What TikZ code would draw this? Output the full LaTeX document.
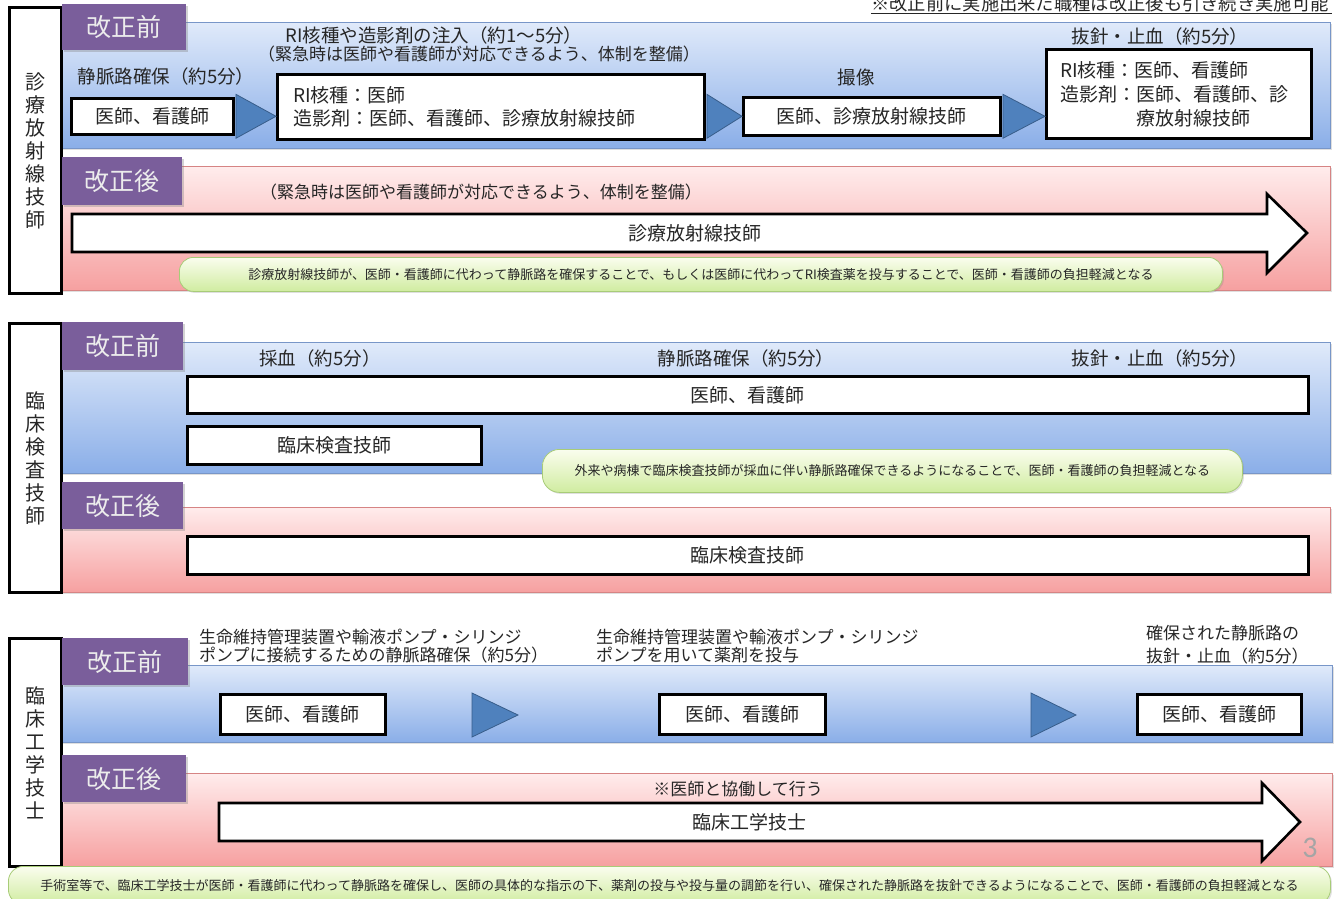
\documentclass[tikz,border=0pt]{standalone}
\usepackage{fontspec}
\setmainfont{Noto Sans CJK JP}
\newfontfamily\pagefont{Carlito}
\usetikzlibrary{calc,shadows}
\definecolor{txt}{RGB}{38,38,38}
\definecolor{bluetop}{RGB}{224,234,250}
\definecolor{bluebot}{RGB}{138,174,232}
\definecolor{bluebd}{RGB}{120,150,200}
\definecolor{pinktop}{RGB}{255,236,236}
\definecolor{pinkbot}{RGB}{246,160,160}
\definecolor{pinkbd}{RGB}{214,132,132}
\definecolor{purp}{RGB}{122,94,155}
\definecolor{lbltxt}{RGB}{236,236,236}
\definecolor{trifill}{RGB}{79,129,189}
\definecolor{tribd}{RGB}{56,93,138}
\definecolor{greentop}{RGB}{250,253,238}
\definecolor{greenbot}{RGB}{208,236,160}
\definecolor{greenbd}{RGB}{168,204,120}
\definecolor{pagegray}{RGB}{165,165,165}
\newcommand\fz[2]{\fontsize{#1}{#2}\selectfont}
\begin{document}
\begin{tikzpicture}[x=1pt,y=-1pt,
  band/.style={draw, line width=0.8pt, inner sep=0, anchor=north west,
    drop shadow={shadow xshift=1.5pt,shadow yshift=-1.5pt,opacity=0.25}},
  blueband/.style={band, draw=bluebd, top color=bluetop, bottom color=bluebot},
  pinkband/.style={band, draw=pinkbd, top color=pinktop, bottom color=pinkbot},
  tag/.style={fill=purp, text=lbltxt, font=\fz{25}{30}, inner sep=0, anchor=north west,
    drop shadow={shadow xshift=1.5pt,shadow yshift=-1.5pt,opacity=0.35}},
  side/.style={draw=black, line width=3pt, fill=white, inner sep=0, anchor=north west,
    align=center, text=txt, font=\fz{20}{23}},
  wbox/.style={draw=black, line width=2.6pt, fill=white, inner sep=0, anchor=north west,
    text=txt, font=\fz{19}{23}},
  lab/.style={text=txt, inner sep=0, font=\fz{18.5}{22}},
  small/.style={text=txt, inner sep=0, font=\fz{17}{19}},
  tri/.style={fill=trifill, draw=tribd, line width=0.8pt},
  bigarrow/.style={draw=black, line width=2.6pt, fill=white, line join=miter},
  note/.style={rounded corners=14pt, draw=greenbd, line width=0.8pt, top color=greentop,
    bottom color=greenbot, inner sep=0, anchor=north west, text=txt, font=\fz{13}{15},
    drop shadow={shadow xshift=1.5pt,shadow yshift=-1.5pt,opacity=0.25}}
]
\useasboundingbox (0,0) rectangle (1336,899);

% top note
\node[text=txt, inner sep=0, anchor=base west, font=\fz{18.3}{22}] (topnote) at (871,10.5) {※改正前に実施出来た職種は改正後も引き続き実施可能};
\draw[txt, line width=1pt] (topnote.west |- 0,14) -- (1332,14);

% ===== Section 1 =====
\node[blueband, minimum width=1270, minimum height=126] (blue1) at (60,22) {};
\node[pinkband, minimum width=1270, minimum height=124] (pink1) at (60,166) {};
\node[side, minimum width=52, minimum height=286] (side1) at (8,6) {診\\療\\放\\射\\線\\技\\師};
\node[tag, minimum width=124, minimum height=46] (tag1a) at (62,4) {改正前};
\node[tag, minimum width=120, minimum height=48] (tag1b) at (62,157) {改正後};

\node[lab] (t11) at (434,35) {RI核種や造影剤の注入（約1～5分）};
\node[small] (t12) at (479,54) {（緊急時は医師や看護師が対応できるよう、体制を整備）};
\node[lab] (t13) at (166,76) {静脈路確保（約5分）};
\node[lab] (t14) at (856,77) {撮像};
\node[lab] (t15) at (1160,36) {抜針・止血（約5分）};

\node[wbox, minimum width=162, minimum height=36] (b11) at (70,97) {医師、看護師};
\node[wbox, minimum width=427, minimum height=65, align=left, text width=395] (b12) at (276,73) {RI核種：医師\\造影剤：医師、看護師、診療放射線技師};
\node[wbox, minimum width=257, minimum height=38] (b13) at (742,96) {医師、診療放射線技師};
\node[wbox, minimum width=265, minimum height=89, align=left, text width=237, font=\fz{19}{24}] (b14) at (1045,48) {RI核種：医師、看護師\\造影剤：医師、看護師、診\\\hspace*{4em}療放射線技師};

\path[tri] ($(b11.east)+(1.3,-22)$) -- ($(b11.east)+(1.3,22)$) -- (b12.west |- b11.east) -- cycle;
\path[tri] ($(b12.east |- b13.east)+(1.3,-22)$) -- ($(b12.east |- b13.east)+(1.3,22)$) -- (b13.west) -- cycle;
\path[tri] ($(b13.east)+(1.3,-22)$) -- ($(b13.east)+(1.3,22)$) -- (b14.west |- b13.east) -- cycle;

\node[small] (t16) at (481,192) {（緊急時は医師や看護師が対応できるよう、体制を整備）};
\coordinate (a1s) at (72,233);
\coordinate (a1e) at (1307,233);
\draw[bigarrow] ($(a1s)+(0,-19)$) -- (1267,214) -- (1267,194) -- (a1e) -- (1267,273) -- (1267,252) -- ($(a1s)+(0,19)$) -- cycle;
\node[text=txt, inner sep=0, font=\fz{19}{23}] (a1t) at (695,233) {診療放射線技師};
\node[note, minimum width=1043, minimum height=34] (g1) at (179,257) {診療放射線技師が、医師・看護師に代わって静脈路を確保することで、もしくは医師に代わってRI検査薬を投与することで、医師・看護師の負担軽減となる};

% ===== Section 2 =====
\node[blueband, minimum width=1270, minimum height=131] (blue2) at (60,342) {};
\node[pinkband, minimum width=1270, minimum height=85] (pink2) at (60,507) {};
\node[side, minimum width=52, minimum height=269] (side2) at (8,322) {臨\\床\\検\\査\\技\\師};
\node[tag, minimum width=121, minimum height=48] (tag2a) at (62,322) {改正前};
\node[tag, minimum width=121, minimum height=47] (tag2b) at (62,482) {改正後};

\node[lab] (t21) at (320,358) {採血（約5分）};
\node[lab] (t22) at (746,358) {静脈路確保（約5分）};
\node[lab] (t23) at (1160,358) {抜針・止血（約5分）};

\node[wbox, minimum width=1121, minimum height=37] (b21) at (186,375) {医師、看護師};
\node[wbox, minimum width=294, minimum height=38] (b22) at (186,425) {臨床検査技師};
\node[note, minimum width=700, minimum height=43, rounded corners=17pt] (g2) at (542,449) {外来や病棟で臨床検査技師が採血に伴い静脈路確保できるようになることで、医師・看護師の負担軽減となる};
\node[wbox, minimum width=1121, minimum height=38] (b23) at (186,535) {臨床検査技師};

% ===== Section 3 =====
\node[blueband, minimum width=1272, minimum height=77] (blue3) at (60,665) {};
\node[pinkband, minimum width=1272, minimum height=93] (pink3) at (60,773) {};
\node[side, minimum width=52, minimum height=228] (side3) at (8,637) {臨\\床\\工\\学\\技\\士};
\node[tag, minimum width=126, minimum height=47] (tag3a) at (62,638) {改正前};
\node[tag, minimum width=124, minimum height=47] (tag3b) at (62,755) {改正後};

\node[small, anchor=west, align=left, font=\fz{17}{18}] (t31) at (199,646) {生命維持管理装置や輸液ポンプ・シリンジ\\ポンプに接続するための静脈路確保（約5分）};
\node[small, anchor=west, align=left, font=\fz{17}{18}] (t32) at (596,646) {生命維持管理装置や輸液ポンプ・シリンジ\\ポンプを用いて薬剤を投与};
\node[small, anchor=west, align=left, font=\fz{17}{23}] (t33) at (1146,645) {確保された静脈路の\\抜針・止血（約5分）};

\node[wbox, minimum width=165, minimum height=40] (b31) at (219,693) {医師、看護師};
\node[wbox, minimum width=166, minimum height=40] (b32) at (658,693) {医師、看護師};
\node[wbox, minimum width=164, minimum height=40] (b33) at (1136,693) {医師、看護師};
\path[tri] (472,693) -- (472,737) -- (518,715) -- cycle;
\path[tri] (1031,693) -- (1031,737) -- (1076,715) -- cycle;

\node[small] (t34) at (738,789) {※医師と協働して行う};
\coordinate (a3s) at (219,822);
\coordinate (a3e) at (1300,822);
\draw[bigarrow] ($(a3s)+(0,-19)$) -- (1262,803) -- (1262,783) -- (a3e) -- (1262,861) -- (1262,841) -- ($(a3s)+(0,19)$) -- cycle;
\node[text=txt, inner sep=0, font=\fz{19}{23}] (a3t) at (749,822) {臨床工学技士};
\node[text=pagegray, inner sep=0, font=\pagefont\fz{30}{32}] (pnum) at (1310,848) {3};

\node[note, minimum width=1322, minimum height=38, rounded corners=15pt] (g3) at (8,866) {手術室等で、臨床工学技士が医師・看護師に代わって静脈路を確保し、医師の具体的な指示の下、薬剤の投与や投与量の調節を行い、確保された静脈路を抜針できるようになることで、医師・看護師の負担軽減となる};
\end{tikzpicture}
\end{document}
